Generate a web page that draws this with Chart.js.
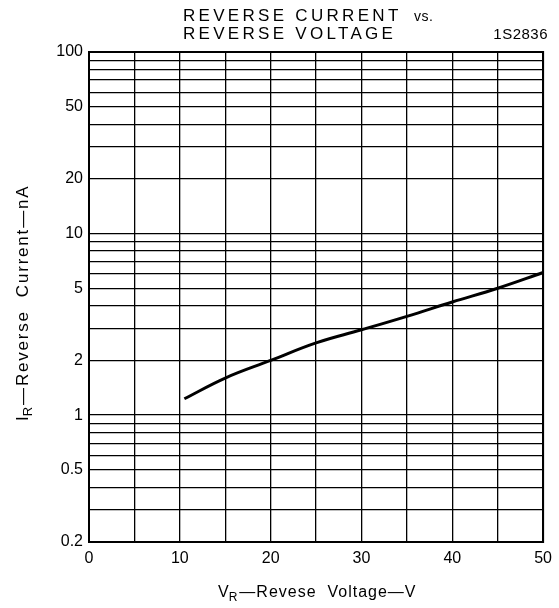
<!DOCTYPE html>
<html>
<head>
<meta charset="utf-8">
<script src="https://cdn.jsdelivr.net/npm/chart.js@4/dist/chart.umd.min.js"></script>
<style>
  html, body { margin: 0; padding: 0; background: #fff; }
  #wrap { width: 559px; height: 608px; }
</style>
</head>
<body>
<div id="wrap"><canvas id="myChart"></canvas></div>
<script>
// Reverse current vs reverse voltage, 1S2836

const voltage = [10.5, 15, 20, 25, 30, 35, 40, 45, 50];
const current = [1.23, 1.6, 2.0, 2.5, 2.95, 3.5, 4.2, 5.0, 6.1];

const yGrid = [0.2, 0.3, 0.4, 0.5, 0.6, 0.7, 0.8, 0.9, 1, 2, 3, 4, 5, 6, 7, 8, 9, 10, 20, 30, 40, 50, 60, 70, 80, 90, 100];
const yLabels = [0.2, 0.5, 1, 2, 5, 10, 20, 50, 100];
const xLabels = [0, 10, 20, 30, 40, 50];

const FONT = '"Liberation Sans", Arial, sans-serif';

const textPlugin = {
  id: 'texts',
  afterDraw(chart) {
    const ctx = chart.ctx;
    const area = chart.chartArea;
    ctx.save();
    ctx.fillStyle = '#000';
    ctx.textBaseline = 'alphabetic';

    // title
    ctx.textAlign = 'left';
    ctx.font = '17px ' + FONT;
    ctx.letterSpacing = '3.3px';
    ctx.fillText('REVERSE CURRENT', 183, 21);
    ctx.fillText('REVERSE VOLTAGE', 183, 39);
    ctx.letterSpacing = '0.5px';
    ctx.font = '14px ' + FONT;
    ctx.fillText('vs.', 414, 21);
    ctx.font = '15px ' + FONT;
    ctx.textAlign = 'right';
    ctx.fillText('1S2836', 548, 39);
    ctx.letterSpacing = '0px';

    // x axis title
    ctx.textAlign = 'left';
    let x = 218, y = 597;
    ctx.font = '16px ' + FONT;
    ctx.fillText('V', x, y);
    x += ctx.measureText('V').width;
    ctx.font = '12px ' + FONT;
    ctx.fillText('R', x, y + 4);
    x += ctx.measureText('R').width + 2;
    ctx.font = '16px ' + FONT;
    ctx.letterSpacing = '1px';
    ctx.fillText('\u2014Revese  Voltage\u2014V', x, y);
    ctx.letterSpacing = '0px';

    // y axis title (rotated)
    ctx.translate(28, 421);
    ctx.rotate(-Math.PI / 2);
    x = 0; y = 0;
    ctx.font = '17px ' + FONT;
    ctx.fillText('I', x, y);
    x += ctx.measureText('I').width;
    ctx.font = '13px ' + FONT;
    ctx.fillText('R', x, y + 4);
    x += ctx.measureText('R').width + 2;
    ctx.font = '17px ' + FONT;
    ctx.letterSpacing = '1.8px';
    ctx.fillText('\u2014Reverse  Current\u2014nA', x, y);
    ctx.restore();

    // border
    ctx.save();
    ctx.strokeStyle = '#000';
    ctx.lineWidth = 2;
    ctx.strokeRect(area.left, area.top, area.right - area.left, area.bottom - area.top);
    ctx.restore();
  }
};

const data = {
  datasets: [
    {
      label: 'IR',
      data: voltage.map((v, i) => ({ x: v, y: current[i] })),
      showLine: true,
      borderColor: '#000',
      borderWidth: 3,
      pointRadius: 0,
      tension: 0.4,
      fill: false,
    },
  ]
};

const config = {
  type: 'scatter',
  data: data,
  plugins: [textPlugin],
  options: {
    responsive: true,
    maintainAspectRatio: false,
    animation: false,
    layout: {
      padding: { left: 0, right: 12, top: 52, bottom: 0 }
    },
    scales: {
      x: {
        type: 'linear',
        min: 0,
        max: 50,
        afterFit: function(scale) { scale.height = 66; },
        grid: { color: '#000', lineWidth: 1.3, drawTicks: false },
        border: { display: false },
        ticks: {
          stepSize: 5,
          color: '#000',
          padding: 7,
          maxRotation: 0,
          font: { family: FONT, size: 16 },
          callback: function(value) {
            return xLabels.includes(value) ? String(value) : '';
          }
        }
      },
      y: {
        type: 'logarithmic',
        min: 0.2,
        max: 100,
        afterFit: function(scale) { scale.width = 89; },
        afterBuildTicks: function(scale) {
          scale.ticks = yGrid.map(v => ({ value: v }));
        },
        grid: { color: '#000', lineWidth: 1.3, drawTicks: false },
        border: { display: false },
        ticks: {
          color: '#000',
          padding: 6,
          autoSkip: false,
          font: { family: FONT, size: 16 },
          callback: function(value) {
            return yLabels.includes(value) ? String(value) : '';
          }
        }
      }
    },
    plugins: {
      legend: { display: false },
      tooltip: { enabled: false },
      title: { display: false }
    }
  }
};

const myChart = new Chart(
  document.getElementById('myChart'),
  config,
);
</script>
</body>
</html>
